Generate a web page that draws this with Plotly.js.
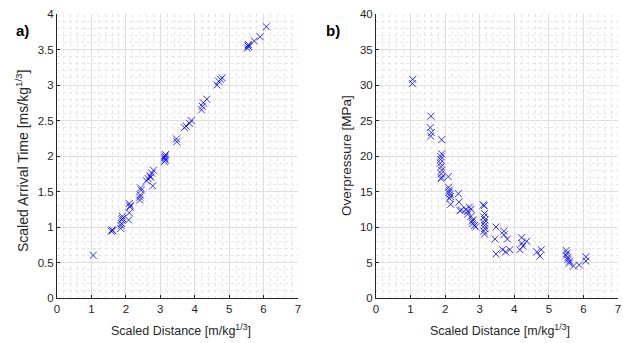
<!DOCTYPE html>
<html><head><meta charset="utf-8">
<script src="https://cdn.plot.ly/plotly-3.0.1.min.js"></script>
<style>html,body{margin:0;padding:0;background:#fff;}#chart{width:623px;height:343px;}</style>
</head><body><div id="chart"></div>
<script>
// Panel a) scaled arrival time vs scaled distance
const distA = [1.05, 1.58,1.6,1.62, 1.85,1.87,1.88,1.9,1.86,1.9, 2.08,2.1,2.12,2.1,2.13, 2.4,2.42,2.45,2.43,2.4, 2.6,2.65,2.7,2.72,2.75,2.8,2.78, 3.12,3.13,3.14,3.15,3.13,3.15, 3.48,3.47, 3.7,3.75,3.85,3.9, 4.2,4.22,4.25,4.35, 4.65,4.7,4.8,4.75, 5.53,5.55,5.57,5.56, 5.73,5.9,6.08];
const arrivalTime = [0.6, 0.94,0.96,0.95, 0.98,1.05,1.1,1.15,1.02,1.12, 1.1,1.2,1.28,1.33,1.3, 1.38,1.45,1.52,1.55,1.42, 1.65,1.68,1.72,1.7,1.76,1.8,1.58, 1.92,1.96,2.0,2.02,1.98,1.94, 2.2,2.24, 2.4,2.42,2.46,2.5, 2.65,2.7,2.75,2.8, 3.0,3.05,3.1,3.08, 3.52,3.55,3.54,3.57, 3.62,3.68,3.82];
// Panel b) overpressure vs scaled distance
const distB = [1.05,1.06, 1.59,1.57,1.6,1.58, 1.9,1.9,1.88,1.87,1.86,1.88,1.9,1.89,1.9,1.88, 2.09,2.1,2.12,2.11,2.14,2.15,2.13,2.16, 2.38,2.4,2.43,2.47, 2.6,2.65,2.7,2.75,2.65, 2.75,2.8,2.8,2.85,2.78,2.88, 3.1,3.13,3.14,3.12,3.15,3.13,3.14,3.15,3.12,3.14, 3.47,3.44,3.47, 3.7,3.7,3.8,3.66,3.75,3.87, 4.21,4.22,4.36,4.25,4.16, 4.65,4.74,4.78, 5.5,5.52,5.5,5.55,5.55,5.6, 5.59,5.71,5.88, 6.07,6.07];
const overpressure = [30.2,30.8, 25.6,24.0,23.3,22.8, 22.3,20.3,19.9,19.5,19.0,18.5,18.0,17.5,17.0,16.8, 17.1,15.6,15.2,14.9,14.6,14.3,14.0,13.2, 14.7,13.5,12.3,12.4, 12.5,12.2,12.8,12.5,11.8, 11.5,11.0,10.5,10.2,10.8,10.0, 13.1,13.0,11.9,11.4,11.0,10.6,10.2,9.8,9.4,9.0, 10.0,8.3,6.2, 9.4,8.9,8.3,6.8,6.5,6.8, 8.5,7.7,8.0,7.3,6.8, 6.5,5.9,6.8, 6.7,6.3,6.0,5.7,5.4,5.2, 4.9,4.5,4.65, 5.8,5.2];

const xLabel = 'Scaled Distance [m/kg<sup>1/3</sup>]';
const yLabelA = 'Scaled Arrival Time [ms/kg<sup>1/3</sup>]';
const yLabelB = 'Overpressure [MPa]';

const fam = 'Liberation Sans, Arial, sans-serif';
const font = {family: fam, size: 11.5, color: '#262626'};
const marker = {symbol: 'x-thin-open', size: 7, color: 'rgba(0,0,255,0.8)', line: {width: 1, color: 'rgba(0,0,255,0.8)'}};

function ax(range, dtick, minorDtick, domain, anchor) {
  return {
    range: range, dtick: dtick, tick0: 0, domain: domain, anchor: anchor,
    showline: true, linecolor: '#262626', linewidth: 1, mirror: false,
    ticks: 'inside', ticklen: 3, tickcolor: '#262626',
    showgrid: true, gridcolor: '#dedede', gridwidth: 1, zeroline: false,
    minor: {dtick: minorDtick, showgrid: true, gridcolor: '#e6e6e6', griddash: 'dot', gridwidth: 1},
    tickfont: font, fixedrange: true
  };
}

const traces = [
  {x: distA, y: arrivalTime, type: 'scatter', mode: 'markers', marker: marker, xaxis: 'x', yaxis: 'y', hoverinfo: 'none'},
  {x: distB, y: overpressure, type: 'scatter', mode: 'markers', marker: marker, xaxis: 'x2', yaxis: 'y2', hoverinfo: 'none'}
];

const yDom = [1 - 298/343, 1 - 14/343];
const layout = {
  width: 623, height: 343,
  margin: {l: 0, r: 0, t: 0, b: 0},
  paper_bgcolor: '#fff', plot_bgcolor: '#fff',
  showlegend: false,
  font: font,
  xaxis: ax([0, 7], 1, 0.2, [57/623, 298/623], 'y'),
  yaxis: ax([0, 4], 0.5, 0.1, yDom, 'x'),
  xaxis2: ax([0, 7], 1, 0.2, [376/623, 618/623], 'y2'),
  yaxis2: ax([0, 40], 5, 1, yDom, 'x2'),
  annotations: [
    {text: xLabel, xref: 'paper', yref: 'paper', x: 181/623, y: 1 - 330/343, showarrow: false, font: {family: fam, size: 12.5, color: '#262626'}, xanchor: 'center', yanchor: 'middle'},
    {text: xLabel, xref: 'paper', yref: 'paper', x: 500/623, y: 1 - 330/343, showarrow: false, font: {family: fam, size: 12.5, color: '#262626'}, xanchor: 'center', yanchor: 'middle'},
    {text: yLabelA, xref: 'paper', yref: 'paper', x: 22/623, y: 1 - 161/343, showarrow: false, textangle: -90, font: {family: fam, size: 14, color: '#262626'}, xanchor: 'center', yanchor: 'middle'},
    {text: yLabelB, xref: 'paper', yref: 'paper', x: 346/623, y: 1 - 156/343, showarrow: false, textangle: -90, font: {family: fam, size: 13.5, color: '#262626'}, xanchor: 'center', yanchor: 'middle'},
    {text: '<b>a)</b>', xref: 'paper', yref: 'paper', x: 22/623, y: 1 - 31/343, showarrow: false, font: {family: fam, size: 15, color: '#000'}, xanchor: 'center', yanchor: 'middle'},
    {text: '<b>b)</b>', xref: 'paper', yref: 'paper', x: 333/623, y: 1 - 31/343, showarrow: false, font: {family: fam, size: 15, color: '#000'}, xanchor: 'center', yanchor: 'middle'}
  ]
};

Plotly.newPlot('chart', traces, layout, {staticPlot: true, displayModeBar: false});
</script>
</body></html>
